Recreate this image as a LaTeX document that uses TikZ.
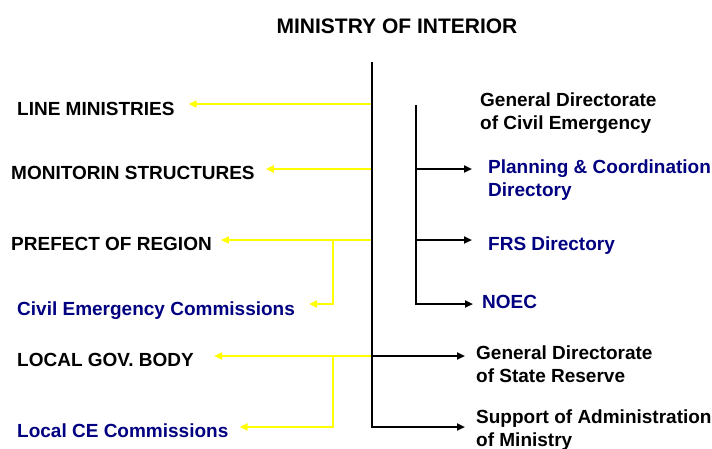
\documentclass[tikz,border=0pt]{standalone}
\usepackage{fontspec}
\setmainfont{Liberation Sans}
\usetikzlibrary{arrows.meta}
\definecolor{cedblue}{RGB}{0,0,128}
\definecolor{cedyellow}{RGB}{255,255,0}
\begin{document}
\begin{tikzpicture}[x=1pt,y=-1pt,
  lbl/.style={inner sep=0pt, font=\bfseries\fontsize{19}{23}\selectfont, anchor=base west},
  lbltwo/.style={lbl, align=left, anchor=north west},
  blu/.style={text=cedblue},
  tip/.style={-{Triangle[length=8pt,width=7pt]}},
  ylink/.style={draw=cedyellow, line width=2.2pt, tip},
  bline/.style={draw=black, line width=2.2pt},
  blink/.style={bline, tip},
]
\useasboundingbox (0,0) rectangle (712,448);

% title
\node[lbl, anchor=base, font=\bfseries\fontsize{21}{25}\selectfont] (moi) at (397,33) {MINISTRY OF INTERIOR};

% left-hand bodies
\node[lbl] (lm)  at (17,115) {LINE MINISTRIES};
\node[lbl] (ms)  at (11,179) {MONITORIN STRUCTURES};
\node[lbl] (pr)  at (11,250) {PREFECT OF REGION};
\node[lbl, blu] (cec) at (17,315) {Civil Emergency Commissions};
\node[lbl] (lgb) at (17,366) {LOCAL GOV. BODY};
\node[lbl, blu] (lce) at (17,437) {Local CE Commissions};

% right-hand bodies
\node[lbltwo] (gdce) at (480,92.5) {General Directorate\\of Civil Emergency};
\node[lbltwo, blu] (pcd) at (488,159.5) {Planning \& Coordination\\Directory};
\node[lbl, blu] (frs) at (488,250) {FRS Directory};
\node[lbl, blu] (noec) at (482,308) {NOEC};
\node[lbltwo] (gdsr) at (476,345.5) {General Directorate\\of State Reserve};
\node[lbltwo] (sup) at (476,409.5) {Support of Administration\\of Ministry};

% trunk and junction points
\coordinate (top) at (372,62);
\coordinate (bot) at (372,427);
\coordinate (jLM) at (372,104);
\coordinate (jMS) at (372,169);
\coordinate (jPR) at (372,240);
\coordinate (jLG) at (372,356);
\coordinate (bPR) at (333,240);
\coordinate (bLG) at (333,356);
\coordinate (kCEC) at (333,304);
\coordinate (kLCE) at (333,427);
\coordinate (itop) at (416,105);
\coordinate (ibot) at (416,304);
\coordinate (iPC) at (416,169);
\coordinate (iFR) at (416,240);

% coordination links (yellow)
\draw[ylink, shorten >=14pt] (jLM) -- (jLM -| lm.east);
\draw[ylink, shorten >=11pt] (jMS) -- (jMS -| ms.east);
\draw[ylink, shorten >=9pt]  (jPR) -- (jPR -| pr.east);
\draw[ylink, shorten >=14pt] (bPR) -- (kCEC) -- (kCEC -| cec.east);
\draw[ylink, shorten >=20pt] (jLG) -- (jLG -| lgb.east);
\draw[ylink, shorten >=11pt] (bLG) -- (kLCE) -- (kLCE -| lce.east);

% subordination links (black)
\draw[blink, shorten >=11pt] (top) -- (bot) -- (bot -| sup.west);
\draw[blink, shorten >=11pt] (jLG) -- (jLG -| gdsr.west);
\draw[blink, shorten >=9pt]  (itop) -- (ibot) -- (ibot -| noec.west);
\draw[blink, shorten >=16pt] (iPC) -- (iPC -| pcd.west);
\draw[blink, shorten >=16pt] (iFR) -- (iFR -| frs.west);
\end{tikzpicture}
\end{document}
